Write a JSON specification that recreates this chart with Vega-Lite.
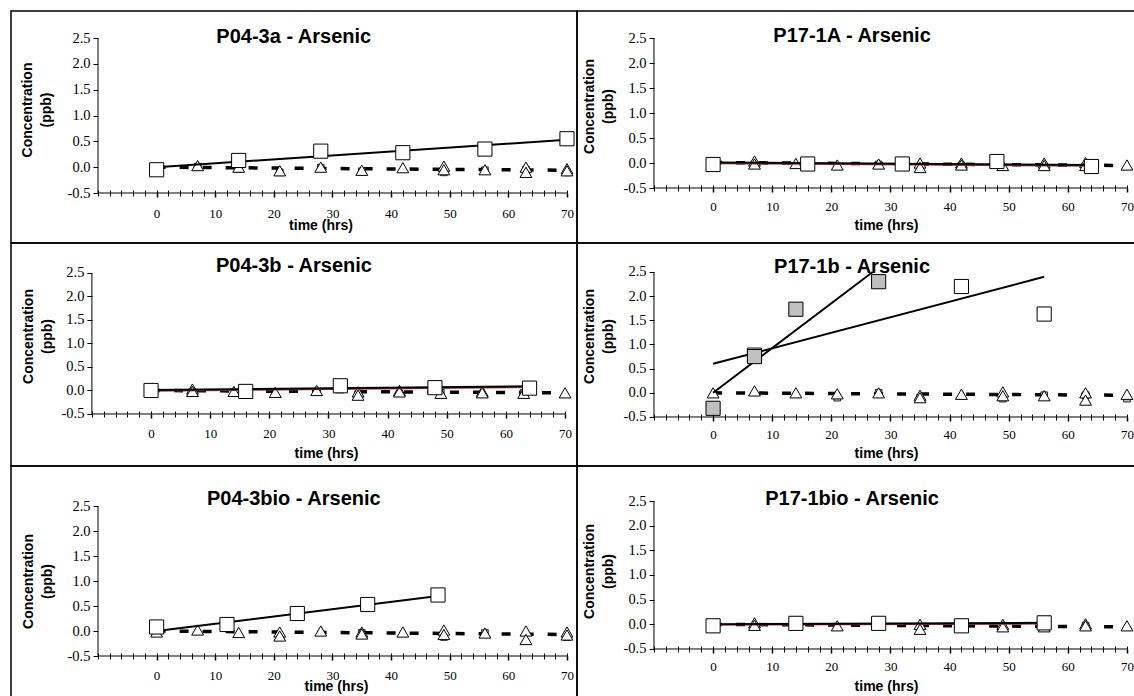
{
"$schema":"https://vega.github.io/schema/vega-lite/v6.json",
"padding":{"left":10,"top":10,"right":0,"bottom":0},
"background":"white",
"spacing":0,
"columns":2,
"bounds":"flush",
"config":{
 "view":{"stroke":"black","strokeWidth":1.5},
 "concat":{"spacing":0},
 "axis":{"domain":false,"grid":false,"tickColor":"black","labelColor":"black","titleColor":"black","labelFont":"Liberation Serif","labelFontSize":13,"titleFont":"Liberation Sans","titleFontWeight":"bold","titleFontSize":14,"labelFlush":false,"labelOverlap":false,"labelBound":false},
 "axisY":{"labelFontSize":14.5}
},
"datasets":{"d":[
{"p":"P04-3a","s":"sq","t":0,"c":-0.05},{"p":"P04-3a","s":"sq","t":14,"c":0.13},{"p":"P04-3a","s":"sq","t":28,"c":0.31},{"p":"P04-3a","s":"sq","t":42,"c":0.28},{"p":"P04-3a","s":"sq","t":56,"c":0.35},{"p":"P04-3a","s":"sq","t":70,"c":0.55},
{"p":"P04-3a","s":"fit","t":0,"c":0.0},{"p":"P04-3a","s":"fit","t":70,"c":0.53},
{"p":"P04-3a","s":"trif","t":0,"c":0.0},{"p":"P04-3a","s":"trif","t":70,"c":-0.06},
{"p":"P04-3a","s":"tri","t":7,"c":0.03},{"p":"P04-3a","s":"tri","t":14,"c":0.0},{"p":"P04-3a","s":"tri","t":21,"c":-0.07},{"p":"P04-3a","s":"tri","t":28,"c":0.0},{"p":"P04-3a","s":"tri","t":35,"c":-0.06},{"p":"P04-3a","s":"tri","t":42,"c":-0.01},{"p":"P04-3a","s":"tri","t":49,"c":0.02},{"p":"P04-3a","s":"tri","t":49,"c":-0.05},{"p":"P04-3a","s":"tri","t":56,"c":-0.05},{"p":"P04-3a","s":"tri","t":63,"c":0.0},{"p":"P04-3a","s":"tri","t":63,"c":-0.1},{"p":"P04-3a","s":"tri","t":70,"c":-0.03},{"p":"P04-3a","s":"tri","t":70,"c":-0.07},
{"p":"P04-3a","s":"sm","t":7,"c":0.01},{"p":"P04-3a","s":"sm","t":14,"c":-0.03},{"p":"P04-3a","s":"sm","t":21,"c":-0.1},{"p":"P04-3a","s":"sm","t":28,"c":-0.01},{"p":"P04-3a","s":"sm","t":35,"c":-0.08},{"p":"P04-3a","s":"sm","t":49,"c":-0.1},{"p":"P04-3a","s":"sm","t":56,"c":-0.06},{"p":"P04-3a","s":"sm","t":63,"c":-0.05},{"p":"P04-3a","s":"sm","t":70,"c":-0.1},

{"p":"P17-1A","s":"sq","t":0,"c":-0.03},{"p":"P17-1A","s":"sq","t":16,"c":-0.02},{"p":"P17-1A","s":"sq","t":32,"c":-0.02},{"p":"P17-1A","s":"sq","t":48,"c":0.03},{"p":"P17-1A","s":"sq","t":64,"c":-0.07},
{"p":"P17-1A","s":"fit","t":0,"c":0.01},{"p":"P17-1A","s":"fit","t":64,"c":-0.04},
{"p":"P17-1A","s":"red","t":0,"c":-0.01},{"p":"P17-1A","s":"red","t":64,"c":-0.06},
{"p":"P17-1A","s":"trif","t":0,"c":0.01},{"p":"P17-1A","s":"trif","t":70,"c":-0.05},
{"p":"P17-1A","s":"tri","t":7,"c":0.04},{"p":"P17-1A","s":"tri","t":7,"c":-0.02},{"p":"P17-1A","s":"tri","t":14,"c":-0.01},{"p":"P17-1A","s":"tri","t":21,"c":-0.04},{"p":"P17-1A","s":"tri","t":28,"c":-0.02},{"p":"P17-1A","s":"tri","t":35,"c":0.0},{"p":"P17-1A","s":"tri","t":35,"c":-0.09},{"p":"P17-1A","s":"tri","t":42,"c":0.0},{"p":"P17-1A","s":"tri","t":42,"c":-0.04},{"p":"P17-1A","s":"tri","t":49,"c":-0.05},{"p":"P17-1A","s":"tri","t":56,"c":0.0},{"p":"P17-1A","s":"tri","t":56,"c":-0.05},{"p":"P17-1A","s":"tri","t":63,"c":0.01},{"p":"P17-1A","s":"tri","t":63,"c":-0.05},{"p":"P17-1A","s":"tri","t":70,"c":-0.04},
{"p":"P17-1A","s":"sm","t":7,"c":-0.03},{"p":"P17-1A","s":"sm","t":28,"c":-0.03},{"p":"P17-1A","s":"sm","t":42,"c":-0.05},{"p":"P17-1A","s":"sm","t":63,"c":-0.06},

{"p":"P04-3b","s":"sq","t":0,"c":0.0},{"p":"P04-3b","s":"sq","t":16,"c":-0.02},{"p":"P04-3b","s":"sq","t":32,"c":0.1},{"p":"P04-3b","s":"sq","t":48,"c":0.06},{"p":"P04-3b","s":"sq","t":64,"c":0.05},
{"p":"P04-3b","s":"fit","t":0,"c":0.01},{"p":"P04-3b","s":"fit","t":64,"c":0.09},
{"p":"P04-3b","s":"red","t":0,"c":-0.01},{"p":"P04-3b","s":"red","t":64,"c":0.07},
{"p":"P04-3b","s":"trif","t":0,"c":0.0},{"p":"P04-3b","s":"trif","t":70,"c":-0.05},
{"p":"P04-3b","s":"tri","t":7,"c":0.03},{"p":"P04-3b","s":"tri","t":7,"c":-0.02},{"p":"P04-3b","s":"tri","t":14,"c":-0.02},{"p":"P04-3b","s":"tri","t":21,"c":-0.04},{"p":"P04-3b","s":"tri","t":28,"c":0.0},{"p":"P04-3b","s":"tri","t":35,"c":-0.03},{"p":"P04-3b","s":"tri","t":35,"c":-0.1},{"p":"P04-3b","s":"tri","t":42,"c":0.0},{"p":"P04-3b","s":"tri","t":42,"c":-0.03},{"p":"P04-3b","s":"tri","t":49,"c":-0.06},{"p":"P04-3b","s":"tri","t":56,"c":-0.02},{"p":"P04-3b","s":"tri","t":56,"c":-0.05},{"p":"P04-3b","s":"tri","t":63,"c":-0.06},{"p":"P04-3b","s":"tri","t":70,"c":-0.05},
{"p":"P04-3b","s":"sm","t":35,"c":-0.08},{"p":"P04-3b","s":"sm","t":49,"c":-0.05},{"p":"P04-3b","s":"sm","t":63,"c":-0.05},

{"p":"P17-1b","s":"sq","t":7,"c":0.78},{"p":"P17-1b","s":"sq","t":42,"c":2.2},{"p":"P17-1b","s":"sq","t":56,"c":1.63},
{"p":"P17-1b","s":"sqg","t":0,"c":-0.32},{"p":"P17-1b","s":"sqg","t":7,"c":0.75},{"p":"P17-1b","s":"sqg","t":14,"c":1.73},{"p":"P17-1b","s":"sqg","t":28,"c":2.3},
{"p":"P17-1b","s":"fit","t":0,"c":0.6},{"p":"P17-1b","s":"fit","t":56,"c":2.4},
{"p":"P17-1b","s":"fitg","t":0,"c":0.0},{"p":"P17-1b","s":"fitg","t":27,"c":2.5},
{"p":"P17-1b","s":"trif","t":0,"c":0.0},{"p":"P17-1b","s":"trif","t":70,"c":-0.05},
{"p":"P17-1b","s":"tri","t":0,"c":0.0},{"p":"P17-1b","s":"tri","t":7,"c":0.04},{"p":"P17-1b","s":"tri","t":14,"c":0.0},{"p":"P17-1b","s":"tri","t":21,"c":-0.02},{"p":"P17-1b","s":"tri","t":28,"c":0.0},{"p":"P17-1b","s":"tri","t":35,"c":-0.05},{"p":"P17-1b","s":"tri","t":35,"c":-0.1},{"p":"P17-1b","s":"tri","t":42,"c":-0.03},{"p":"P17-1b","s":"tri","t":49,"c":0.02},{"p":"P17-1b","s":"tri","t":49,"c":-0.06},{"p":"P17-1b","s":"tri","t":56,"c":-0.06},{"p":"P17-1b","s":"tri","t":63,"c":0.0},{"p":"P17-1b","s":"tri","t":63,"c":-0.15},{"p":"P17-1b","s":"tri","t":70,"c":-0.03},
{"p":"P17-1b","s":"sm","t":21,"c":-0.1},{"p":"P17-1b","s":"sm","t":28,"c":0.0},{"p":"P17-1b","s":"sm","t":35,"c":-0.1},{"p":"P17-1b","s":"sm","t":49,"c":-0.12},{"p":"P17-1b","s":"sm","t":56,"c":-0.05},{"p":"P17-1b","s":"sm","t":63,"c":-0.05},{"p":"P17-1b","s":"sm","t":70,"c":-0.12},

{"p":"P04-3bio","s":"sq","t":0,"c":0.08},{"p":"P04-3bio","s":"sq","t":12,"c":0.13},{"p":"P04-3bio","s":"sq","t":24,"c":0.35},{"p":"P04-3bio","s":"sq","t":36,"c":0.53},{"p":"P04-3bio","s":"sq","t":48,"c":0.72},
{"p":"P04-3bio","s":"fit","t":0,"c":0.0},{"p":"P04-3bio","s":"fit","t":48,"c":0.7},
{"p":"P04-3bio","s":"trif","t":0,"c":0.0},{"p":"P04-3bio","s":"trif","t":70,"c":-0.07},
{"p":"P04-3bio","s":"tri","t":0,"c":-0.02},{"p":"P04-3bio","s":"tri","t":7,"c":0.02},{"p":"P04-3bio","s":"tri","t":14,"c":-0.03},{"p":"P04-3bio","s":"tri","t":21,"c":-0.02},{"p":"P04-3bio","s":"tri","t":21,"c":-0.1},{"p":"P04-3bio","s":"tri","t":28,"c":0.0},{"p":"P04-3bio","s":"tri","t":35,"c":-0.02},{"p":"P04-3bio","s":"tri","t":35,"c":-0.06},{"p":"P04-3bio","s":"tri","t":42,"c":-0.02},{"p":"P04-3bio","s":"tri","t":49,"c":0.02},{"p":"P04-3bio","s":"tri","t":49,"c":-0.07},{"p":"P04-3bio","s":"tri","t":56,"c":-0.04},{"p":"P04-3bio","s":"tri","t":63,"c":0.0},{"p":"P04-3bio","s":"tri","t":63,"c":-0.17},{"p":"P04-3bio","s":"tri","t":70,"c":-0.02},{"p":"P04-3bio","s":"tri","t":70,"c":-0.08},
{"p":"P04-3bio","s":"sm","t":0,"c":-0.03},{"p":"P04-3bio","s":"sm","t":21,"c":-0.12},{"p":"P04-3bio","s":"sm","t":35,"c":-0.04},{"p":"P04-3bio","s":"sm","t":49,"c":-0.12},{"p":"P04-3bio","s":"sm","t":56,"c":-0.04},{"p":"P04-3bio","s":"sm","t":70,"c":-0.12},

{"p":"P17-1bio","s":"sq","t":0,"c":-0.03},{"p":"P17-1bio","s":"sq","t":14,"c":0.02},{"p":"P17-1bio","s":"sq","t":28,"c":0.02},{"p":"P17-1bio","s":"sq","t":42,"c":-0.03},{"p":"P17-1bio","s":"sq","t":56,"c":0.03},
{"p":"P17-1bio","s":"fit","t":0,"c":0.0},{"p":"P17-1bio","s":"fit","t":56,"c":0.03},
{"p":"P17-1bio","s":"red","t":0,"c":-0.01},{"p":"P17-1bio","s":"red","t":56,"c":0.01},
{"p":"P17-1bio","s":"trif","t":0,"c":0.0},{"p":"P17-1bio","s":"trif","t":70,"c":-0.05},
{"p":"P17-1bio","s":"tri","t":7,"c":0.03},{"p":"P17-1bio","s":"tri","t":7,"c":-0.02},{"p":"P17-1bio","s":"tri","t":21,"c":-0.03},{"p":"P17-1bio","s":"tri","t":35,"c":0.0},{"p":"P17-1bio","s":"tri","t":35,"c":-0.1},{"p":"P17-1bio","s":"tri","t":42,"c":0.0},{"p":"P17-1bio","s":"tri","t":49,"c":0.0},{"p":"P17-1bio","s":"tri","t":49,"c":-0.05},{"p":"P17-1bio","s":"tri","t":56,"c":-0.05},{"p":"P17-1bio","s":"tri","t":63,"c":0.01},{"p":"P17-1bio","s":"tri","t":63,"c":-0.03},{"p":"P17-1bio","s":"tri","t":70,"c":-0.03},
{"p":"P17-1bio","s":"sm","t":35,"c":-0.07},{"p":"P17-1bio","s":"sm","t":42,"c":-0.03},{"p":"P17-1bio","s":"sm","t":49,"c":-0.06},{"p":"P17-1bio","s":"sm","t":63,"c":-0.03}
]},
"concat":[
{"width":566,"height":232,"resolve":{"axis":{"x":"independent","y":"independent"}},"layer":[
 {"data":{"values":[{}]},"mark":{"type":"rule","color":"black","strokeWidth":1},"encoding":{
  "x":{"datum":-10,"type":"quantitative","scale":{"domain":[-24.84,71.71],"nice":false,"zero":false},"axis":{"orient":"bottom","offset":-50,"values":[0,10,20,30,40,50,60,70],"tickSize":4,"tickWidth":1.5,"labelPadding":10,"title":"time (hrs)","titleX":309.5,"titleY":32,"titleBaseline":"middle","titleAlign":"center"}},
  "x2":{"datum":70},
  "y":{"datum":-0.5,"type":"quantitative","scale":{"domain":[-1.4677,3.0226],"nice":false,"zero":false},"axis":{"orient":"left","offset":-87,"values":[-0.5,0,0.5,1,1.5,2,2.5],"labelExpr":"datum.value < 0 ? '-0.5' : format(datum.value, '.1f')","tickSize":5,"labelPadding":3,"title":["Concentration","(ppb)"],"titleLineHeight":19,"titleX":-71,"titleY":98.5,"titleBaseline":"middle","titleAlign":"center","titleAngle":-90}}}},
 {"data":{"values":[{}]},"mark":{"type":"rule","color":"black","strokeWidth":1},"encoding":{
  "x":{"datum":-10,"type":"quantitative","axis":{"orient":"bottom","offset":-50,"values":[-10,-8,-6,-4,-2,0,2,4,6,8,10,12,14,16,18,20,22,24,26,28,30,32,34,36,38,40,42,44,46,48,50,52,54,56,58,60,62,64,66,68,70],"tickSize":3,"labels":false,"title":null}},
  "y":{"datum":-0.5,"type":"quantitative","axis":null},"y2":{"datum":2.5}}},
 {"data":{"name":"d"},"transform":[{"filter":"datum.p=='P04-3a'&&datum.s=='trif'"}],"mark":{"type":"line","color":"black","strokeWidth":3.5,"strokeDash":[9,14]},"encoding":{
  "x":{"field":"t","type":"quantitative","axis":{"orient":"top","offset":-182,"values":[-10,-8,-6,-4,-2,0,2,4,6,8,10,12,14,16,18,20,22,24,26,28,30,32,34,36,38,40,42,44,46,48,50,52,54,56,58,60,62,64,66,68,70],"tickSize":3,"labels":false,"title":null}},
  "y":{"field":"c","type":"quantitative","axis":null}}},
 {"data":{"name":"d"},"transform":[{"filter":"datum.p=='P04-3a'&&datum.s=='sm'"}],"mark":{"type":"point","shape":"square","size":45,"filled":true,"fill":"#bdbdbd","stroke":"black","strokeWidth":0.8,"opacity":1},"encoding":{"x":{"field":"t","type":"quantitative","axis":null},"y":{"field":"c","type":"quantitative","axis":null}}},
 {"data":{"name":"d"},"transform":[{"filter":"datum.p=='P04-3a'&&datum.s=='tri'"}],"mark":{"type":"point","shape":"triangle-up","size":140,"filled":true,"fill":"white","stroke":"black","strokeWidth":1,"opacity":1},"encoding":{"x":{"field":"t","type":"quantitative","axis":null},"y":{"field":"c","type":"quantitative","axis":null}}},
 {"data":{"name":"d"},"transform":[{"filter":"datum.p=='P04-3a'&&datum.s=='fit'"}],"mark":{"type":"line","color":"black","strokeWidth":2},"encoding":{"x":{"field":"t","type":"quantitative","axis":null},"y":{"field":"c","type":"quantitative","axis":null},"detail":{"field":"s"}}},
 {"data":{"name":"d"},"transform":[{"filter":"datum.p=='P04-3a'&&datum.s=='sq'"}],"mark":{"type":"point","shape":"square","size":200,"filled":true,"fill":"white","stroke":"black","strokeWidth":1,"opacity":1},"encoding":{"x":{"field":"t","type":"quantitative","axis":null},"y":{"field":"c","type":"quantitative","axis":null}}},
 {"data":{"values":[{"n":"P04-3a - Arsenic"}]},"mark":{"type":"text","font":"Liberation Sans","fontWeight":"bold","fontSize":20,"align":"center","baseline":"alphabetic","color":"black"},"encoding":{"x":{"datum":23.4,"type":"quantitative","axis":null},"y":{"datum":2.41,"type":"quantitative","axis":null},"text":{"field":"n"}}}
]},
{"width":558,"height":232,"resolve":{"axis":{"x":"independent","y":"independent"}},"layer":[
 {"data":{"values":[{}]},"mark":{"type":"rule","color":"black","strokeWidth":1},"encoding":{
  "x":{"datum":-10,"type":"quantitative","scale":{"domain":[-23.02,71.36],"nice":false,"zero":false},"axis":{"orient":"bottom","offset":-55,"values":[0,10,20,30,40,50,60,70],"tickSize":4,"tickWidth":1.5,"labelPadding":8,"title":"time (hrs)","titleX":309,"titleY":37,"titleBaseline":"middle","titleAlign":"center"}},
  "x2":{"datum":70},
  "y":{"datum":-0.5,"type":"quantitative","scale":{"domain":[-1.6,3.04],"nice":false,"zero":false},"axis":{"orient":"left","offset":-77,"values":[-0.5,0,0.5,1,1.5,2,2.5],"labelExpr":"datum.value < 0 ? '-0.5' : format(datum.value, '.1f')","tickSize":5,"labelPadding":3,"title":["Concentration","(ppb)"],"titleLineHeight":19,"titleX":-65,"titleY":95,"titleBaseline":"middle","titleAlign":"center","titleAngle":-90}}}},
 {"data":{"values":[{}]},"mark":{"type":"rule","color":"black","strokeWidth":1},"encoding":{
  "x":{"datum":-10,"type":"quantitative","axis":{"orient":"bottom","offset":-55,"values":[-10,-8,-6,-4,-2,0,2,4,6,8,10,12,14,16,18,20,22,24,26,28,30,32,34,36,38,40,42,44,46,48,50,52,54,56,58,60,62,64,66,68,70],"tickSize":3,"labels":false,"title":null}},
  "y":{"datum":-0.5,"type":"quantitative","axis":null},"y2":{"datum":2.5}}},
 {"data":{"name":"d"},"transform":[{"filter":"datum.p=='P17-1A'&&datum.s=='trif'"}],"mark":{"type":"line","color":"black","strokeWidth":3.5,"strokeDash":[9,14]},"encoding":{
  "x":{"field":"t","type":"quantitative","axis":{"orient":"top","offset":-177,"values":[-10,-8,-6,-4,-2,0,2,4,6,8,10,12,14,16,18,20,22,24,26,28,30,32,34,36,38,40,42,44,46,48,50,52,54,56,58,60,62,64,66,68,70],"tickSize":3,"labels":false,"title":null}},
  "y":{"field":"c","type":"quantitative","axis":null}}},
 {"data":{"name":"d"},"transform":[{"filter":"datum.p=='P17-1A'&&datum.s=='sm'"}],"mark":{"type":"point","shape":"square","size":45,"filled":true,"fill":"#bdbdbd","stroke":"black","strokeWidth":0.8,"opacity":1},"encoding":{"x":{"field":"t","type":"quantitative","axis":null},"y":{"field":"c","type":"quantitative","axis":null}}},
 {"data":{"name":"d"},"transform":[{"filter":"datum.p=='P17-1A'&&datum.s=='tri'"}],"mark":{"type":"point","shape":"triangle-up","size":140,"filled":true,"fill":"white","stroke":"black","strokeWidth":1,"opacity":1},"encoding":{"x":{"field":"t","type":"quantitative","axis":null},"y":{"field":"c","type":"quantitative","axis":null}}},
 {"data":{"name":"d"},"transform":[{"filter":"datum.p=='P17-1A'&&datum.s=='red'"}],"mark":{"type":"line","color":"#b03030","strokeWidth":1.5},"encoding":{"x":{"field":"t","type":"quantitative","axis":null},"y":{"field":"c","type":"quantitative","axis":null}}},
 {"data":{"name":"d"},"transform":[{"filter":"datum.p=='P17-1A'&&datum.s=='fit'"}],"mark":{"type":"line","color":"black","strokeWidth":2},"encoding":{"x":{"field":"t","type":"quantitative","axis":null},"y":{"field":"c","type":"quantitative","axis":null},"detail":{"field":"s"}}},
 {"data":{"name":"d"},"transform":[{"filter":"datum.p=='P17-1A'&&datum.s=='sq'"}],"mark":{"type":"point","shape":"square","size":200,"filled":true,"fill":"white","stroke":"black","strokeWidth":1,"opacity":1},"encoding":{"x":{"field":"t","type":"quantitative","axis":null},"y":{"field":"c","type":"quantitative","axis":null}}},
 {"data":{"values":[{"n":"P17-1A - Arsenic"}]},"mark":{"type":"text","font":"Liberation Sans","fontWeight":"bold","fontSize":20,"align":"center","baseline":"alphabetic","color":"black"},"encoding":{"x":{"datum":23.5,"type":"quantitative","axis":null},"y":{"datum":2.42,"type":"quantitative","axis":null},"text":{"field":"n"}}}
]},
{"width":566,"height":223,"resolve":{"axis":{"x":"independent","y":"independent"}},"layer":[
 {"data":{"values":[{}]},"mark":{"type":"rule","color":"black","strokeWidth":1},"encoding":{
  "x":{"datum":-10,"type":"quantitative","scale":{"domain":[-23.68,72.02],"nice":false,"zero":false},"axis":{"orient":"bottom","offset":-52,"values":[0,10,20,30,40,50,60,70],"tickSize":4,"tickWidth":1.5,"labelPadding":9,"title":"time (hrs)","titleX":315,"titleY":39,"titleBaseline":"middle","titleAlign":"center"}},
  "x2":{"datum":70},
  "y":{"datum":-0.5,"type":"quantitative","scale":{"domain":[-1.607,3.138],"nice":false,"zero":false},"axis":{"orient":"left","offset":-80.9,"values":[-0.5,0,0.5,1,1.5,2,2.5],"labelExpr":"datum.value < 0 ? '-0.5' : format(datum.value, '.1f')","tickSize":5,"labelPadding":3,"title":["Concentration","(ppb)"],"titleLineHeight":19,"titleX":-63,"titleY":93,"titleBaseline":"middle","titleAlign":"center","titleAngle":-90}}}},
 {"data":{"values":[{}]},"mark":{"type":"rule","color":"black","strokeWidth":1},"encoding":{
  "x":{"datum":-10,"type":"quantitative","axis":{"orient":"bottom","offset":-52,"values":[-10,-8,-6,-4,-2,0,2,4,6,8,10,12,14,16,18,20,22,24,26,28,30,32,34,36,38,40,42,44,46,48,50,52,54,56,58,60,62,64,66,68,70],"tickSize":3,"labels":false,"title":null}},
  "y":{"datum":-0.5,"type":"quantitative","axis":null},"y2":{"datum":2.5}}},
 {"data":{"name":"d"},"transform":[{"filter":"datum.p=='P04-3b'&&datum.s=='trif'"}],"mark":{"type":"line","color":"black","strokeWidth":3.5,"strokeDash":[9,14]},"encoding":{
  "x":{"field":"t","type":"quantitative","axis":{"orient":"top","offset":-171,"values":[-10,-8,-6,-4,-2,0,2,4,6,8,10,12,14,16,18,20,22,24,26,28,30,32,34,36,38,40,42,44,46,48,50,52,54,56,58,60,62,64,66,68,70],"tickSize":3,"labels":false,"title":null}},
  "y":{"field":"c","type":"quantitative","axis":null}}},
 {"data":{"name":"d"},"transform":[{"filter":"datum.p=='P04-3b'&&datum.s=='sm'"}],"mark":{"type":"point","shape":"square","size":45,"filled":true,"fill":"#bdbdbd","stroke":"black","strokeWidth":0.8,"opacity":1},"encoding":{"x":{"field":"t","type":"quantitative","axis":null},"y":{"field":"c","type":"quantitative","axis":null}}},
 {"data":{"name":"d"},"transform":[{"filter":"datum.p=='P04-3b'&&datum.s=='tri'"}],"mark":{"type":"point","shape":"triangle-up","size":140,"filled":true,"fill":"white","stroke":"black","strokeWidth":1,"opacity":1},"encoding":{"x":{"field":"t","type":"quantitative","axis":null},"y":{"field":"c","type":"quantitative","axis":null}}},
 {"data":{"name":"d"},"transform":[{"filter":"datum.p=='P04-3b'&&datum.s=='red'"}],"mark":{"type":"line","color":"#b03030","strokeWidth":1.5},"encoding":{"x":{"field":"t","type":"quantitative","axis":null},"y":{"field":"c","type":"quantitative","axis":null}}},
 {"data":{"name":"d"},"transform":[{"filter":"datum.p=='P04-3b'&&datum.s=='fit'"}],"mark":{"type":"line","color":"black","strokeWidth":2},"encoding":{"x":{"field":"t","type":"quantitative","axis":null},"y":{"field":"c","type":"quantitative","axis":null},"detail":{"field":"s"}}},
 {"data":{"name":"d"},"transform":[{"filter":"datum.p=='P04-3b'&&datum.s=='sq'"}],"mark":{"type":"point","shape":"square","size":200,"filled":true,"fill":"white","stroke":"black","strokeWidth":1,"opacity":1},"encoding":{"x":{"field":"t","type":"quantitative","axis":null},"y":{"field":"c","type":"quantitative","axis":null}}},
 {"data":{"values":[{"n":"P04-3b - Arsenic"}]},"mark":{"type":"text","font":"Liberation Sans","fontWeight":"bold","fontSize":20,"align":"center","baseline":"alphabetic","color":"black"},"encoding":{"x":{"datum":24.17,"type":"quantitative","axis":null},"y":{"datum":2.52,"type":"quantitative","axis":null},"text":{"field":"n"}}}
]},
{"width":558,"height":223,"resolve":{"axis":{"x":"independent","y":"independent"}},"layer":[
 {"data":{"values":[{}]},"mark":{"type":"rule","color":"black","strokeWidth":1},"encoding":{
  "x":{"datum":-10,"type":"quantitative","scale":{"domain":[-23.02,71.36],"nice":false,"zero":false},"axis":{"orient":"bottom","offset":-49,"values":[0,10,20,30,40,50,60,70],"tickSize":4,"tickWidth":1.5,"labelPadding":7,"title":"time (hrs)","titleX":309,"titleY":36,"titleBaseline":"middle","titleAlign":"center"}},
  "x2":{"datum":70},
  "y":{"datum":-0.5,"type":"quantitative","scale":{"domain":[-1.514,3.1],"nice":false,"zero":false},"axis":{"orient":"left","offset":-77,"values":[-0.5,0,0.5,1,1.5,2,2.5],"labelExpr":"datum.value < 0 ? '-0.5' : format(datum.value, '.1f')","tickSize":5,"labelPadding":3,"title":["Concentration","(ppb)"],"titleLineHeight":19,"titleX":-65,"titleY":93,"titleBaseline":"middle","titleAlign":"center","titleAngle":-90}}}},
 {"data":{"values":[{}]},"mark":{"type":"rule","color":"black","strokeWidth":1},"encoding":{
  "x":{"datum":-10,"type":"quantitative","axis":{"orient":"bottom","offset":-49,"values":[-10,-8,-6,-4,-2,0,2,4,6,8,10,12,14,16,18,20,22,24,26,28,30,32,34,36,38,40,42,44,46,48,50,52,54,56,58,60,62,64,66,68,70],"tickSize":3,"labels":false,"title":null}},
  "y":{"datum":-0.5,"type":"quantitative","axis":null},"y2":{"datum":2.5}}},
 {"data":{"name":"d"},"transform":[{"filter":"datum.p=='P17-1b'&&datum.s=='trif'"}],"mark":{"type":"line","color":"black","strokeWidth":3.5,"strokeDash":[9,14]},"encoding":{
  "x":{"field":"t","type":"quantitative","axis":{"orient":"top","offset":-174,"values":[-10,-8,-6,-4,-2,0,2,4,6,8,10,12,14,16,18,20,22,24,26,28,30,32,34,36,38,40,42,44,46,48,50,52,54,56,58,60,62,64,66,68,70],"tickSize":3,"labels":false,"title":null}},
  "y":{"field":"c","type":"quantitative","axis":null}}},
 {"data":{"name":"d"},"transform":[{"filter":"datum.p=='P17-1b'&&datum.s=='sm'"}],"mark":{"type":"point","shape":"square","size":45,"filled":true,"fill":"#bdbdbd","stroke":"black","strokeWidth":0.8,"opacity":1},"encoding":{"x":{"field":"t","type":"quantitative","axis":null},"y":{"field":"c","type":"quantitative","axis":null}}},
 {"data":{"name":"d"},"transform":[{"filter":"datum.p=='P17-1b'&&datum.s=='tri'"}],"mark":{"type":"point","shape":"triangle-up","size":140,"filled":true,"fill":"white","stroke":"black","strokeWidth":1,"opacity":1},"encoding":{"x":{"field":"t","type":"quantitative","axis":null},"y":{"field":"c","type":"quantitative","axis":null}}},
 {"data":{"name":"d"},"transform":[{"filter":"datum.p=='P17-1b'&&(datum.s=='fit'||datum.s=='fitg')"}],"mark":{"type":"line","color":"black","strokeWidth":2},"encoding":{"x":{"field":"t","type":"quantitative","axis":null},"y":{"field":"c","type":"quantitative","axis":null},"detail":{"field":"s"}}},
 {"data":{"name":"d"},"transform":[{"filter":"datum.p=='P17-1b'&&datum.s=='sq'"}],"mark":{"type":"point","shape":"square","size":200,"filled":true,"fill":"white","stroke":"black","strokeWidth":1,"opacity":1},"encoding":{"x":{"field":"t","type":"quantitative","axis":null},"y":{"field":"c","type":"quantitative","axis":null}}},
 {"data":{"name":"d"},"transform":[{"filter":"datum.p=='P17-1b'&&datum.s=='sqg'"}],"mark":{"type":"point","shape":"square","size":200,"filled":true,"fill":"#c0c0c0","stroke":"black","strokeWidth":1,"opacity":1},"encoding":{"x":{"field":"t","type":"quantitative","axis":null},"y":{"field":"c","type":"quantitative","axis":null}}},
 {"data":{"values":[{"n":"P17-1b - Arsenic"}]},"mark":{"type":"text","font":"Liberation Sans","fontWeight":"bold","fontSize":20,"align":"center","baseline":"alphabetic","color":"black"},"encoding":{"x":{"datum":23.5,"type":"quantitative","axis":null},"y":{"datum":2.48,"type":"quantitative","axis":null},"text":{"field":"n"}}}
]},
{"width":566,"height":231,"resolve":{"axis":{"x":"independent","y":"independent"}},"layer":[
 {"data":{"values":[{}]},"mark":{"type":"rule","color":"black","strokeWidth":1},"encoding":{
  "x":{"datum":-10,"type":"quantitative","scale":{"domain":[-24.84,71.71],"nice":false,"zero":false},"axis":{"orient":"bottom","offset":-41,"values":[0,10,20,30,40,50,60,70],"tickSize":4,"tickWidth":1.5,"labelPadding":9,"title":"time (hrs)","titleX":325,"titleY":30,"titleBaseline":"middle","titleAlign":"center"}},
  "x2":{"datum":70},
  "y":{"datum":-0.5,"type":"quantitative","scale":{"domain":[-1.32,3.3],"nice":false,"zero":false},"axis":{"orient":"left","offset":-87,"values":[-0.5,0,0.5,1,1.5,2,2.5],"labelExpr":"datum.value < 0 ? '-0.5' : format(datum.value, '.1f')","tickSize":5,"labelPadding":3,"title":["Concentration","(ppb)"],"titleLineHeight":19,"titleX":-70,"titleY":115,"titleBaseline":"middle","titleAlign":"center","titleAngle":-90}}}},
 {"data":{"values":[{}]},"mark":{"type":"rule","color":"black","strokeWidth":1},"encoding":{
  "x":{"datum":-10,"type":"quantitative","axis":{"orient":"bottom","offset":-41,"values":[-10,-8,-6,-4,-2,0,2,4,6,8,10,12,14,16,18,20,22,24,26,28,30,32,34,36,38,40,42,44,46,48,50,52,54,56,58,60,62,64,66,68,70],"tickSize":3,"labels":false,"title":null}},
  "y":{"datum":-0.5,"type":"quantitative","axis":null},"y2":{"datum":2.5}}},
 {"data":{"name":"d"},"transform":[{"filter":"datum.p=='P04-3bio'&&datum.s=='trif'"}],"mark":{"type":"line","color":"black","strokeWidth":3.5,"strokeDash":[9,14]},"encoding":{
  "x":{"field":"t","type":"quantitative","axis":{"orient":"top","offset":-190,"values":[-10,-8,-6,-4,-2,0,2,4,6,8,10,12,14,16,18,20,22,24,26,28,30,32,34,36,38,40,42,44,46,48,50,52,54,56,58,60,62,64,66,68,70],"tickSize":3,"labels":false,"title":null}},
  "y":{"field":"c","type":"quantitative","axis":null}}},
 {"data":{"name":"d"},"transform":[{"filter":"datum.p=='P04-3bio'&&datum.s=='sm'"}],"mark":{"type":"point","shape":"square","size":45,"filled":true,"fill":"#bdbdbd","stroke":"black","strokeWidth":0.8,"opacity":1},"encoding":{"x":{"field":"t","type":"quantitative","axis":null},"y":{"field":"c","type":"quantitative","axis":null}}},
 {"data":{"name":"d"},"transform":[{"filter":"datum.p=='P04-3bio'&&datum.s=='tri'"}],"mark":{"type":"point","shape":"triangle-up","size":140,"filled":true,"fill":"white","stroke":"black","strokeWidth":1,"opacity":1},"encoding":{"x":{"field":"t","type":"quantitative","axis":null},"y":{"field":"c","type":"quantitative","axis":null}}},
 {"data":{"name":"d"},"transform":[{"filter":"datum.p=='P04-3bio'&&datum.s=='fit'"}],"mark":{"type":"line","color":"black","strokeWidth":2},"encoding":{"x":{"field":"t","type":"quantitative","axis":null},"y":{"field":"c","type":"quantitative","axis":null},"detail":{"field":"s"}}},
 {"data":{"name":"d"},"transform":[{"filter":"datum.p=='P04-3bio'&&datum.s=='sq'"}],"mark":{"type":"point","shape":"square","size":200,"filled":true,"fill":"white","stroke":"black","strokeWidth":1,"opacity":1},"encoding":{"x":{"field":"t","type":"quantitative","axis":null},"y":{"field":"c","type":"quantitative","axis":null}}},
 {"data":{"values":[{"n":"P04-3bio - Arsenic"}]},"mark":{"type":"text","font":"Liberation Sans","fontWeight":"bold","fontSize":20,"align":"center","baseline":"alphabetic","color":"black"},"encoding":{"x":{"datum":23.4,"type":"quantitative","axis":null},"y":{"datum":2.52,"type":"quantitative","axis":null},"text":{"field":"n"}}}
]},
{"width":558,"height":231,"resolve":{"axis":{"x":"independent","y":"independent"}},"layer":[
 {"data":{"values":[{}]},"mark":{"type":"rule","color":"black","strokeWidth":1},"encoding":{
  "x":{"datum":-10,"type":"quantitative","scale":{"domain":[-23.02,71.36],"nice":false,"zero":false},"axis":{"orient":"bottom","offset":-48,"values":[0,10,20,30,40,50,60,70],"tickSize":4,"tickWidth":1.5,"labelPadding":7,"title":"time (hrs)","titleX":309,"titleY":37,"titleBaseline":"middle","titleAlign":"center"}},
  "x2":{"datum":70},
  "y":{"datum":-0.5,"type":"quantitative","scale":{"domain":[-1.4732,3.2095],"nice":false,"zero":false},"axis":{"orient":"left","offset":-77,"values":[-0.5,0,0.5,1,1.5,2,2.5],"labelExpr":"datum.value < 0 ? '-0.5' : format(datum.value, '.1f')","tickSize":5,"labelPadding":3,"title":["Concentration","(ppb)"],"titleLineHeight":19,"titleX":-65,"titleY":105,"titleBaseline":"middle","titleAlign":"center","titleAngle":-90}}}},
 {"data":{"values":[{}]},"mark":{"type":"rule","color":"black","strokeWidth":1},"encoding":{
  "x":{"datum":-10,"type":"quantitative","axis":{"orient":"bottom","offset":-48,"values":[-10,-8,-6,-4,-2,0,2,4,6,8,10,12,14,16,18,20,22,24,26,28,30,32,34,36,38,40,42,44,46,48,50,52,54,56,58,60,62,64,66,68,70],"tickSize":3,"labels":false,"title":null}},
  "y":{"datum":-0.5,"type":"quantitative","axis":null},"y2":{"datum":2.5}}},
 {"data":{"name":"d"},"transform":[{"filter":"datum.p=='P17-1bio'&&datum.s=='trif'"}],"mark":{"type":"line","color":"black","strokeWidth":3.5,"strokeDash":[9,14]},"encoding":{
  "x":{"field":"t","type":"quantitative","axis":{"orient":"top","offset":-183,"values":[-10,-8,-6,-4,-2,0,2,4,6,8,10,12,14,16,18,20,22,24,26,28,30,32,34,36,38,40,42,44,46,48,50,52,54,56,58,60,62,64,66,68,70],"tickSize":3,"labels":false,"title":null}},
  "y":{"field":"c","type":"quantitative","axis":null}}},
 {"data":{"name":"d"},"transform":[{"filter":"datum.p=='P17-1bio'&&datum.s=='sm'"}],"mark":{"type":"point","shape":"square","size":45,"filled":true,"fill":"#bdbdbd","stroke":"black","strokeWidth":0.8,"opacity":1},"encoding":{"x":{"field":"t","type":"quantitative","axis":null},"y":{"field":"c","type":"quantitative","axis":null}}},
 {"data":{"name":"d"},"transform":[{"filter":"datum.p=='P17-1bio'&&datum.s=='tri'"}],"mark":{"type":"point","shape":"triangle-up","size":140,"filled":true,"fill":"white","stroke":"black","strokeWidth":1,"opacity":1},"encoding":{"x":{"field":"t","type":"quantitative","axis":null},"y":{"field":"c","type":"quantitative","axis":null}}},
 {"data":{"name":"d"},"transform":[{"filter":"datum.p=='P17-1bio'&&datum.s=='red'"}],"mark":{"type":"line","color":"#b03030","strokeWidth":1.5},"encoding":{"x":{"field":"t","type":"quantitative","axis":null},"y":{"field":"c","type":"quantitative","axis":null}}},
 {"data":{"name":"d"},"transform":[{"filter":"datum.p=='P17-1bio'&&datum.s=='fit'"}],"mark":{"type":"line","color":"black","strokeWidth":2},"encoding":{"x":{"field":"t","type":"quantitative","axis":null},"y":{"field":"c","type":"quantitative","axis":null},"detail":{"field":"s"}}},
 {"data":{"name":"d"},"transform":[{"filter":"datum.p=='P17-1bio'&&datum.s=='sq'"}],"mark":{"type":"point","shape":"square","size":200,"filled":true,"fill":"white","stroke":"black","strokeWidth":1,"opacity":1},"encoding":{"x":{"field":"t","type":"quantitative","axis":null},"y":{"field":"c","type":"quantitative","axis":null}}},
 {"data":{"values":[{"n":"P17-1bio - Arsenic"}]},"mark":{"type":"text","font":"Liberation Sans","fontWeight":"bold","fontSize":20,"align":"center","baseline":"alphabetic","color":"black"},"encoding":{"x":{"datum":23.5,"type":"quantitative","axis":null},"y":{"datum":2.42,"type":"quantitative","axis":null},"text":{"field":"n"}}}
]}
]
}
